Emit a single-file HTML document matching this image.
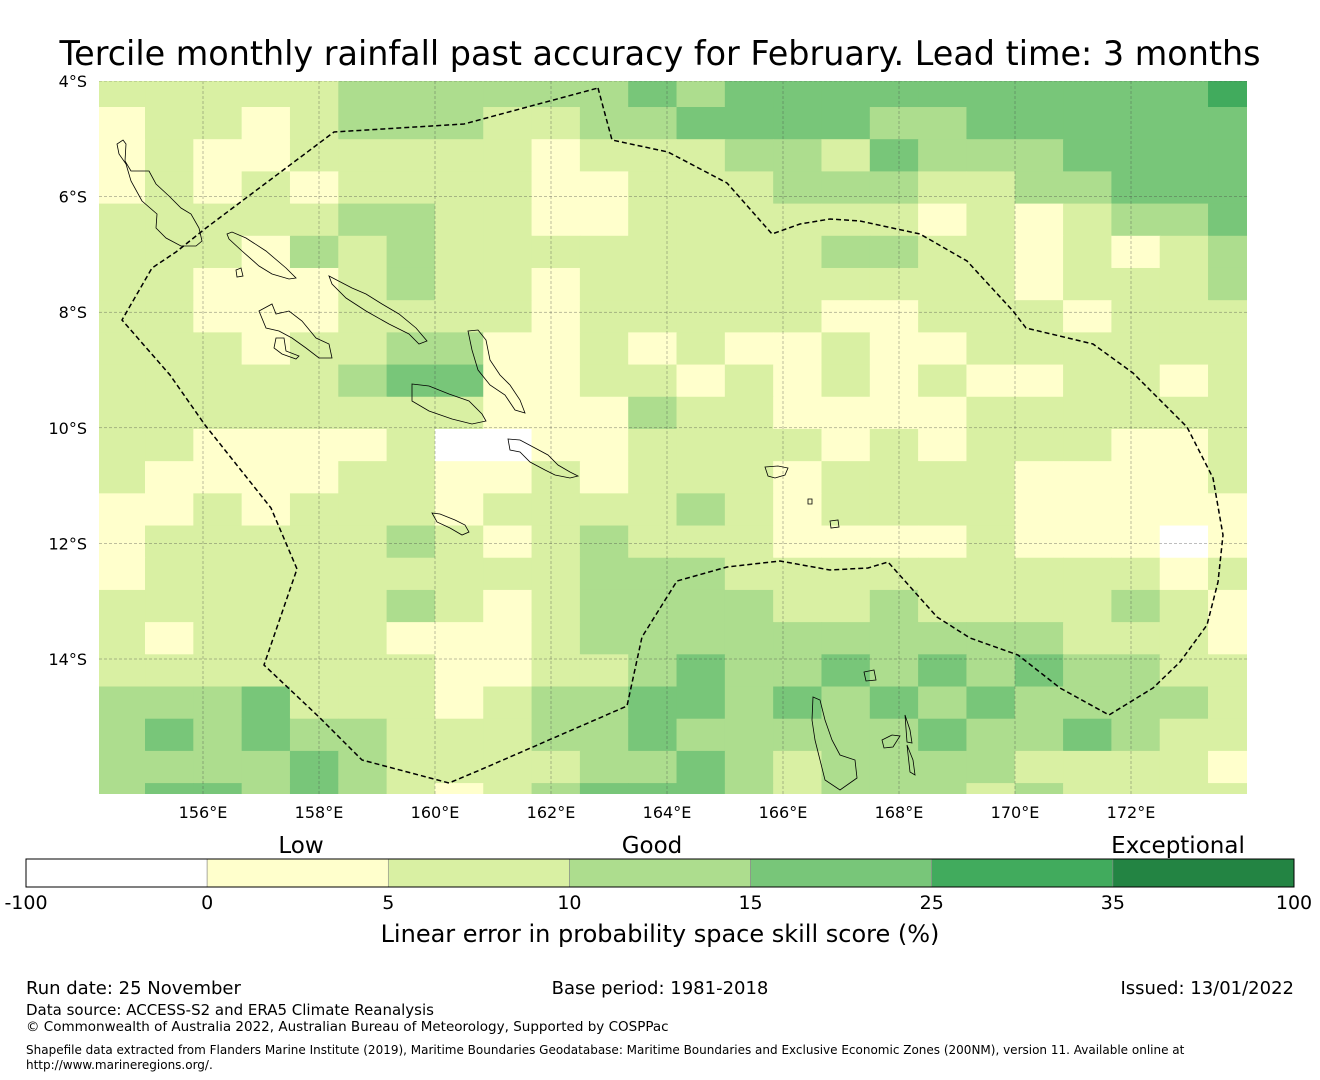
<!DOCTYPE html>
<html><head><meta charset="utf-8"><style>
html,body{margin:0;padding:0;background:#fff;width:1320px;height:1080px;overflow:hidden}
svg text{font-family:"DejaVu Sans","Liberation Sans",sans-serif;fill:#000}
</style></head><body>
<svg id="chart" width="1320" height="1080" viewBox="0 0 1320 1080" xmlns="http://www.w3.org/2000/svg">
<text x="660" y="65" font-size="33.4" text-anchor="middle">Tercile monthly rainfall past accuracy for February. Lead time: 3 months</text>
<defs><clipPath id="mapclip"><rect x="99" y="81" width="1148" height="713"/></clipPath></defs>
<g id="cells" clip-path="url(#mapclip)"></g>
<g id="grid" clip-path="url(#mapclip)"></g>
<g id="coast" clip-path="url(#mapclip)" fill="none" stroke="#000" stroke-width="0.8"></g>
<polyline id="eez" clip-path="url(#mapclip)" fill="none" stroke="#000" stroke-width="1.5" stroke-dasharray="5,3"/>
<g id="axes"></g>
<g id="cbar"></g>
<text x="301" y="853" font-size="23" text-anchor="middle">Low</text>
<text x="652" y="853" font-size="23" text-anchor="middle">Good</text>
<text x="1178" y="853" font-size="23" text-anchor="middle">Exceptional</text>
<text x="660" y="942" font-size="24" text-anchor="middle">Linear error in probability space skill score (%)</text>
<text x="26" y="994" font-size="18">Run date: 25 November</text>
<text x="660" y="994" font-size="18" text-anchor="middle">Base period: 1981-2018</text>
<text x="1294" y="994" font-size="18" text-anchor="end">Issued: 13/01/2022</text>
<text x="26" y="1015" font-size="15">Data source: ACCESS-S2 and ERA5 Climate Reanalysis</text>
<text x="26" y="1031" font-size="13.5">© Commonwealth of Australia 2022, Australian Bureau of Meteorology, Supported by COSPPac</text>
<text x="26" y="1054" font-size="12">Shapefile data extracted from Flanders Marine Institute (2019), Maritime Boundaries Geodatabase: Maritime Boundaries and Exclusive Economic Zones (200NM), version 11. Available online at</text>
<text x="26" y="1069" font-size="12">http://www.marineregions.org/.</text>
</svg>
<script>
const colors = ["#ffffff","#ffffcc","#d9f0a3","#addd8e","#78c679","#41ab5d","#238443"];
const binTicks = ["-100","0","5","10","15","25","35","100"];
const lonTicks = [156,158,160,162,164,166,168,170,172];
const latTicks = [4,6,8,10,12,14];
const lonStart = 154.167, lonStep = 0.8331;
const latStart = 3.893, latStep = 0.557;
const r00=[2,2,2,2,2,3,3,3,3,3,3,4,3,4,4,4,4,4,4,4,4,4,4,5];
const r01=[1,2,2,1,2,3,3,3,2,2,3,3,4,4,4,4,3,3,4,4,4,4,4,4];
const r02=[1,2,1,1,2,2,2,2,2,1,2,2,2,3,3,2,4,3,3,3,4,4,4,4];
const r03=[1,2,1,2,1,2,2,2,2,1,1,2,2,2,3,3,3,2,2,3,3,4,4,4];
const r04=[2,2,2,2,2,3,3,2,2,1,1,2,2,2,2,2,2,1,2,1,2,3,3,4];
const r05=[2,2,2,1,3,2,3,2,2,2,2,2,2,2,2,3,3,2,2,1,2,1,2,3];
const r06=[2,2,1,1,1,2,3,2,2,1,2,2,2,2,2,2,2,2,2,1,2,2,2,3];
const r07=[2,2,1,1,1,2,2,2,2,1,2,2,2,2,2,1,1,2,2,2,1,2,2,2];
const r08=[2,2,2,1,2,2,3,3,1,1,2,1,2,1,1,2,1,1,2,2,2,2,2,2];
const r09=[2,2,2,2,2,3,4,4,1,1,2,2,1,2,1,2,1,2,1,1,2,2,1,2];
const r10=[2,2,2,2,2,2,2,2,1,1,1,3,2,2,1,1,1,1,2,2,2,2,2,2];
const r11=[2,2,1,1,1,1,2,0,0,1,1,2,2,2,2,1,2,1,2,2,2,1,1,2];
const r12=[2,1,1,1,1,2,2,1,1,2,1,2,2,2,1,2,2,2,2,1,1,1,1,2];
const r13=[1,1,2,1,2,2,2,1,2,2,2,2,3,2,1,2,2,2,2,1,1,1,1,1];
const r14=[1,2,2,2,2,2,3,2,1,2,3,2,2,2,1,1,1,1,2,1,1,1,0,1];
const r15=[1,2,2,2,2,2,2,2,2,2,3,3,3,2,2,2,2,2,2,2,2,2,1,2];
const r16=[2,2,2,2,2,2,3,2,1,2,3,3,3,3,2,2,3,2,2,2,2,3,2,1];
const r17=[2,1,2,2,2,2,1,1,1,2,3,3,3,3,3,3,3,3,3,3,2,2,2,1];
const r18=[2,2,2,2,2,2,2,1,1,2,2,3,4,3,3,4,3,4,3,4,3,3,2,2];
const r19=[3,3,3,4,2,2,2,1,2,3,3,4,4,3,4,3,4,3,4,3,3,3,3,2];
const r20=[3,4,3,4,3,3,2,2,2,3,3,4,3,3,3,3,3,4,3,3,4,3,2,2];
const r21=[3,3,3,3,4,3,2,2,2,2,3,3,4,3,2,3,3,3,3,2,2,2,2,1];
const r22=[3,4,4,3,4,3,2,1,2,3,4,4,4,3,2,3,3,3,2,3,2,2,2,2];
const grid=[r00,r01,r02,r03,r04,r05,r06,r07,r08,r09,r10,r11,r12,r13,r14,r15,r16,r17,r18,r19,r20,r21,r22];
// basemap outlines (static background, screen pixels)
const eezPath="598,88 612,140 668,152 727,183 772,234 800,224 830,219 860,221 920,234 967,261 1013,311 1026,328 1093,344 1133,373 1187,427 1213,478 1223,535 1218,582 1207,625 1180,662 1153,688 1109,715 1060,688 1018,655 970,638 937,617 888,562 868,568 830,570 780,561 727,567 677,581 642,637 627,706 480,770 449,783 362,760 319,717 264,665 297,569 271,508 205,425 170,375 122,320 152,268 176,252 206,228 334,132 464,124 598,88";
const coastPaths=[
"123,140 126,144 125,161 131,171 149,171 156,184 169,196 181,208 191,214 199,228 202,241 196,246 181,246 166,238 156,228 157,214 142,201 131,181 126,164 119,154 117,144",
"227,234 232,232 246,238 266,251 286,268 296,278 289,279 272,274 259,266 242,251 229,239",
"329,276 352,288 366,294 382,304 399,314 416,328 427,341 419,344 409,334 389,324 366,311 346,298 332,284",
"259,311 272,304 276,314 289,311 302,321 316,338 329,344 332,358 319,358 306,348 292,338 279,331 266,328",
"276,338 284,338 286,351 299,356 296,359 282,354 274,348",
"412,384 429,386 449,394 469,401 482,414 486,421 472,424 452,419 429,411 412,401",
"468,331 478,330 486,340 490,360 500,375 510,385 520,400 525,413 515,410 505,395 490,385 478,370 472,350",
"508,439 520,440 535,448 548,455 558,465 570,472 578,476 570,478 555,475 545,470 530,462 520,452 510,450",
"432,513 440,514 455,520 465,525 469,532 462,535 450,528 437,522",
"765,467 778,466 788,468 785,475 775,478 768,476",
"813,697 820,700 825,720 832,740 840,755 855,760 857,778 840,790 825,780 820,760 815,740 812,720",
"905,715 910,730 912,743 907,742",
"907,745 913,760 915,775 910,772",
"882,740 892,735 900,736 893,747 884,748",
"864,672 874,670 876,680 866,681",
"236,270 241,268 243,276 237,277",
"808,499 812,499 812,504 808,504",
"830,521 838,520 839,527 831,528"];
const NS='http://www.w3.org/2000/svg';
function xScale(lon){return 203+(lon-156)*58;}
function yScale(lat){return 81+(lat-4)*57.8;}
function mk(tag,attrs,parent){const e=document.createElementNS(NS,tag);for(const k in attrs)e.setAttribute(k,attrs[k]);parent.appendChild(e);return e;}
const cells=document.getElementById('cells');
grid.forEach((row,r)=>{row.forEach((v,c)=>{
 const x0=xScale(lonStart+c*lonStep),x1=xScale(lonStart+(c+1)*lonStep);
 const y0=yScale(latStart+r*latStep),y1=yScale(latStart+(r+1)*latStep);
 const e=mk('rect',{x:x0,y:y0,width:x1-x0+0.6,height:y1-y0+0.6,fill:colors[v]},cells);
 
 
});});
const g=document.getElementById('grid');
lonTicks.forEach(l=>{const e=mk('line',{x1:xScale(l),x2:xScale(l),y1:81,y2:794,stroke:'#444','stroke-width':0.5,'stroke-dasharray':'3,2','stroke-opacity':0.7},g);
 
 });
latTicks.forEach(l=>{const e=mk('line',{x1:99,x2:1247,y1:yScale(l),y2:yScale(l),stroke:'#444','stroke-width':0.5,'stroke-dasharray':'3,2','stroke-opacity':0.7},g);
 
 });
const coast=document.getElementById('coast');
coastPaths.forEach(p=>{const e=mk('polygon',{points:p},coast);
 
 });
document.getElementById('eez').setAttribute('points',eezPath);
const ax=document.getElementById('axes');
lonTicks.forEach(l=>{const t=mk('text',{x:xScale(l),y:818,'font-size':16,'text-anchor':'middle'},ax);t.textContent=l+'°E';
 
 });
latTicks.forEach(l=>{const t=mk('text',{x:87,y:yScale(l)+6,'font-size':16,'text-anchor':'end'},ax);t.textContent=l+'°S';
 
 });
const cb=document.getElementById('cbar');
const cbX0=26,cbW=1268,n=colors.length,segW=cbW/n;
colors.forEach((c,i)=>{const e=mk('rect',{x:cbX0+i*segW,y:859,width:segW,height:28,fill:c,stroke:'#888','stroke-width':0.6},cb);
 
 });
mk('rect',{x:cbX0,y:859,width:cbW,height:28,fill:'none',stroke:'#000','stroke-width':1},cb);
binTicks.forEach((t,i)=>{const e=mk('text',{x:cbX0+i*segW,y:909,'font-size':19,'text-anchor':'middle'},cb);e.textContent=t;
 
 });
</script>
</body></html>
